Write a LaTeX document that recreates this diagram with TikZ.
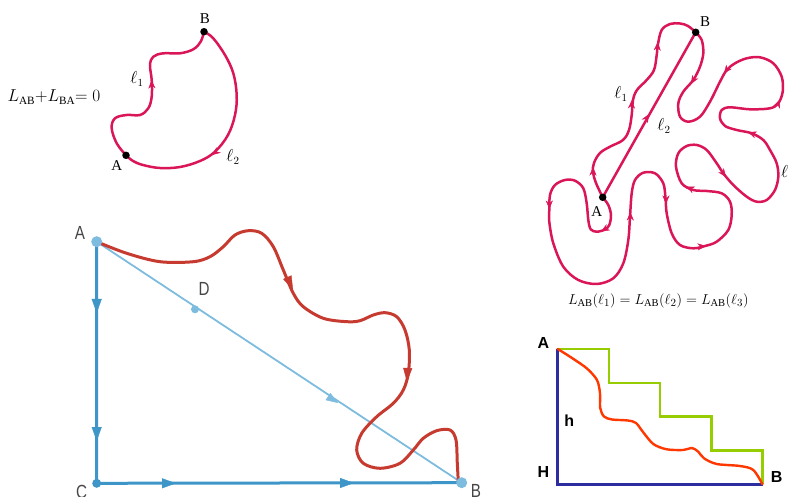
\documentclass[tikz,border=0pt]{standalone}
\usepackage{fontspec}
\setmainfont{Liberation Serif}
\newfontfamily\sansf{Liberation Sans}
\usetikzlibrary{arrows.meta,calc,decorations.markings}
\definecolor{crim}{RGB}{218,22,88}
\definecolor{bblue}{RGB}{62,150,200}
\definecolor{lblue}{RGB}{125,188,222}
\definecolor{rcurve}{RGB}{198,58,48}
\definecolor{dblue}{RGB}{45,45,160}
\definecolor{lgreen}{RGB}{150,205,0}
\definecolor{orred}{RGB}{255,55,0}
\definecolor{lgray}{RGB}{70,70,70}
\newcommand{\myfs}[1]{\fontsize{#1}{#1}\selectfont}
\begin{document}
\begin{tikzpicture}[x=1pt,y=-1pt,
  crimline/.style={draw=crim,line width=2.5pt,line cap=round,line join=round},
  ctip/.style={decorate,decoration={markings,mark=at position 0.5 with {\arrow{Stealth[length=8.5pt,width=7pt,color=crim]}}}},
  dotb/.style={circle,fill=black,inner sep=0pt,minimum size=7.5pt},
  serlab/.style={font=\myfs{15},inner sep=0pt},
  elllab/.style={font=\myfs{16},inner sep=0pt},
  bluel/.style={draw=bblue,line width=3pt},
  btip/.style={decorate,decoration={markings,mark=at position 0.5 with {\arrow{Triangle[length=14pt,width=10pt,color=bblue]}}}},
  diagl/.style={draw=lblue,line width=1.8pt},
  dtip/.style={decorate,decoration={markings,mark=at position 0.5 with {\arrow{Triangle[length=12pt,width=8.5pt,color=lblue]}}}},
  redl/.style={draw=rcurve,line width=3pt,line cap=round,line join=round},
  rtip/.style={decorate,decoration={markings,mark=at position 0.5 with {\arrow{Triangle[length=14pt,width=9pt,color=rcurve]}}}},
  gsans/.style={font=\sansf\myfs{19},text=lgray,inner sep=0pt},
  bsans/.style={font=\sansf\bfseries\myfs{16},inner sep=0pt},
  bdot/.style={circle,inner sep=0pt,fill=lblue},
  stepl/.style={draw=lgreen,line width=2.4pt},
  axl/.style={draw=dblue,line width=2.6pt},
  orl/.style={draw=orred,line width=2.4pt,line cap=round,line join=round}
]
\useasboundingbox (0,0) rectangle (788,497);

% ---------------- top-left ----------------
\node[font=\myfs{16},inner sep=0pt] (eqL) at (54,97) {$L_{\mathrm{AB}}{+}L_{\mathrm{BA}}{=}\;0$};
\coordinate (tlA) at (126,155.3);
\coordinate (tlB) at (204,31.7);
\draw[crimline] plot[smooth,tension=0.6] coordinates {(tlA) (116.7,143.3) (111.7,128.3) (115,118.3) (126.7,115) (140,115) (148.3,108.3) (151.7,96.7) (151.7,80) (150,65) (153.3,56.7) (163.3,53.3) (180,53.3) (193.3,49.3) (200.7,41.7) (tlB)};
\draw[crimline] plot[smooth,tension=0.6] coordinates {(tlB) (213,38) (225,55) (233.3,73.3) (236.7,95) (235,115) (228,135) (215,151.7) (200,161) (180,167) (160,168) (143,165) (133,161) (tlA)};
\path[ctip] (151.6,82) -- (151.4,78);
\path[ctip] (213.6,153.8) -- (210.4,156.2);
\node[dotb] (tlAd) at (tlA) {};
\node[dotb] (tlBd) at (tlB) {};
\node[serlab] (tlAl) at (116.7,166) {A};
\node[serlab] (tlBl) at (205,19) {B};
\node[elllab] (tll1) at (137,79) {$\ell_1$};
\node[elllab] (tll2) at (233,157) {$\ell_2$};

% ---------------- top-right ----------------
\coordinate (trA) at (602.7,197.3);
\coordinate (trB) at (695.7,32.3);
\draw[crimline] plot[smooth,tension=0.6] coordinates {(trA) (596,183) (593,172) (594,163) (600,153) (610,146.7) (623,140) (629,130) (631.7,115) (633,100) (637,90) (646.7,80) (654,70) (656.7,55) (658,44) (661.7,30) (670,24) (680,23.5) (688,26) (trB)};
\draw[crimline] (trA) -- (trB);
\draw[crimline] plot[smooth,tension=0.55] coordinates {(trA) (608.3,205) (611,215) (609.3,225) (605,229.5) (596.7,231.7) (590.7,229.3) (588.3,220) (586.7,203.3) (583.3,188.3) (575,180.7) (565,180) (555,185) (550,195) (549.3,210) (549.3,222) (553.3,243.3) (563.3,266.7) (578.3,280) (596.7,284) (613.3,278.3) (623.3,263.3) (628.3,240) (630,216.7) (631.7,193.3) (635,180) (643.3,172.7) (655,173.3) (663.3,183.3) (665.5,198) (666.7,213.3) (671.7,233.3) (680,245) (693.3,248.3) (705,246) (716.7,241.7) (728.3,230) (731.7,215) (730,201.7) (721.7,193.3) (706.7,191) (693.3,190) (681.7,183.3) (676,166.7) (678.3,153.3) (686.7,146) (696.7,145) (706.7,150) (716.7,163.3) (723.3,173.3) (733.3,185) (746.7,196.7) (756.7,201.7) (766.7,200) (775,190) (778.3,176.7) (776.7,163.3) (770,150) (763.3,140) (751.7,133.3) (736.7,130) (725,126) (720,118.3) (721.7,110) (730,107.3) (750,109.3) (770,108.3) (778.3,103.3) (782.7,91.7) (781.7,76.7) (773.3,63.3) (760,57.3) (746.7,58.3) (735,63.3) (726.7,70) (720,81.7) (710,101.7) (700,116.7) (688.3,121.7) (680,116.7) (678.3,103.3) (683.3,91.7) (693.3,80) (700,66.7) (703.3,53.3) (701.7,40) (trB)};
% l1 arrows
\path[ctip] (593,169) -- (593,165);
\path[ctip] (631.8,102) -- (632,98);
\path[ctip] (657.7,44) -- (658,40);
% l2 arrow
\path[ctip] (648,115.7) -- (650,112.3);
% l3 arrows
\path[ctip] (602.7,230.5) -- (599.3,232.5);
\path[ctip] (549.3,207) -- (549.3,211);
\path[ctip] (630.3,214) -- (630.3,210);
\path[ctip] (666,202) -- (666,206);
\path[ctip] (704,246.2) -- (708,245.8);
\path[ctip] (687.8,187.3) -- (684.2,185.7);
\path[ctip] (724.8,175.4) -- (727.2,178.6);
\path[ctip] (749.9,132.7) -- (746.1,131.3);
\path[ctip] (779.2,101.3) -- (780.8,97.7);
\path[ctip] (725.2,71.9) -- (722.8,75.1);
\path[ctip] (692,82.3) -- (690,85.7);
\node[dotb] (trAd) at (trA) {};
\node[dotb] (trBd) at (trB) {};
\node[serlab] (trAl) at (596.7,212) {A};
\node[serlab] (trBl) at (705,21.7) {B};
\node[elllab] (trl1) at (621,94) {$\ell_1$};
\node[elllab] (trl2) at (664,126) {$\ell_2$};
\node[elllab,anchor=west] (trl3) at (781,173) {$\ell_3$};
\node[font=\myfs{15},inner sep=0pt] (eqR) at (658.3,301) {$L_{\mathrm{AB}}(\ell_1) = L_{\mathrm{AB}}(\ell_2) = L_{\mathrm{AB}}(\ell_3)$};

% ---------------- bottom-left ----------------
\coordinate (blA) at (96.7,241.7);
\coordinate (blC) at (96.7,483.3);
\coordinate (blB) at (461.7,482.7);
\coordinate (blD) at (195,309.3);
\draw[bluel] (blA) -- (blC) -- (blB);
\draw[diagl] (blA) -- (blB);
\draw[redl] plot[smooth,tension=0.55] coordinates {(blA) (126.7,253.3) (160,261.7) (193.3,261.7) (210,256.7) (223.3,246.7) (235,235) (248.3,230.7) (261.7,233.3) (273.3,246.7) (283.3,270) (293.3,293.3) (303.3,306.7) (323.3,318.3) (346.7,321.7) (360,320.7) (373.3,315) (385,312.7) (396.7,316.7) (405,330) (409.3,350) (408.3,373.3) (403.3,390) (393.3,403.3) (376.7,416.7) (361.7,433.3) (356.7,450) (363.3,463.3) (380,468.3) (400,463.3) (413.3,450) (423.3,438.3) (436.7,430.7) (450,430) (456,440) (457.3,463.3) (458.3,481.7)};
\path[btip] (96.7,311) -- (96.7,315);
\path[btip] (96.7,439) -- (96.7,443);
\path[btip] (174,483.3) -- (178,483.3);
\path[btip] (352,483) -- (356,483);
\path[dtip] (336.3,401.9) -- (339.7,404.1);
\path[rtip] (292.2,288.2) -- (293.8,291.8);
\path[rtip] (407.1,380) -- (406.9,384);
\node[bdot,minimum size=11pt] (blAd) at (blA) {};
\node[bdot,minimum size=8pt] (blDd) at (blD) {};
\node[circle,inner sep=0pt,fill=bblue,minimum size=9pt] (blCd) at (blC) {};
\node[bdot,minimum size=11pt] (blBd) at (blB) {};
\node[gsans] (blAl) at (80,233.3) {\scalebox{0.8}[1]{A}};
\node[gsans] (blDl) at (204,289.3) {\scalebox{0.8}[1]{D}};
\node[gsans] (blCl) at (81.7,492) {\scalebox{0.8}[1]{C}};
\node[gsans] (blBl) at (476,491) {\scalebox{0.8}[1]{B}};

% ---------------- bottom-right ----------------
\coordinate (brA) at (557.7,349);
\coordinate (brH) at (557.7,484.3);
\coordinate (brB) at (762.5,484.3);
\draw[stepl] (brA) -- (609,349) -- (609,382.8) -- (660,382.8) -- (660,416.5) -- (711.5,416.5) -- (711.5,450.3) -- (762.5,450.3) -- (brB);
\draw[axl] (brA) -- (brH) -- (brB);
\draw[orl] plot[smooth,tension=0.5] coordinates {(brA) (570,356.7) (586.7,368.3) (597,380) (600,393.3) (600.2,408) (604,416.5) (612,419.5) (628,420.5) (636,423) (643,432) (653.3,444) (666.7,449.3) (683.3,450) (692,448) (698,451.5) (704,458.3) (716.7,464) (740,466) (753.3,470) (brB)};
\node[bsans] (brAl) at (543.3,342.7) {A};
\node[bsans] (brhl) at (569.3,420.5) {h};
\node[bsans] (brHl) at (543.3,472.3) {H};
\node[bsans] (brBl) at (776.7,477.3) {B};
\end{tikzpicture}
\end{document}
